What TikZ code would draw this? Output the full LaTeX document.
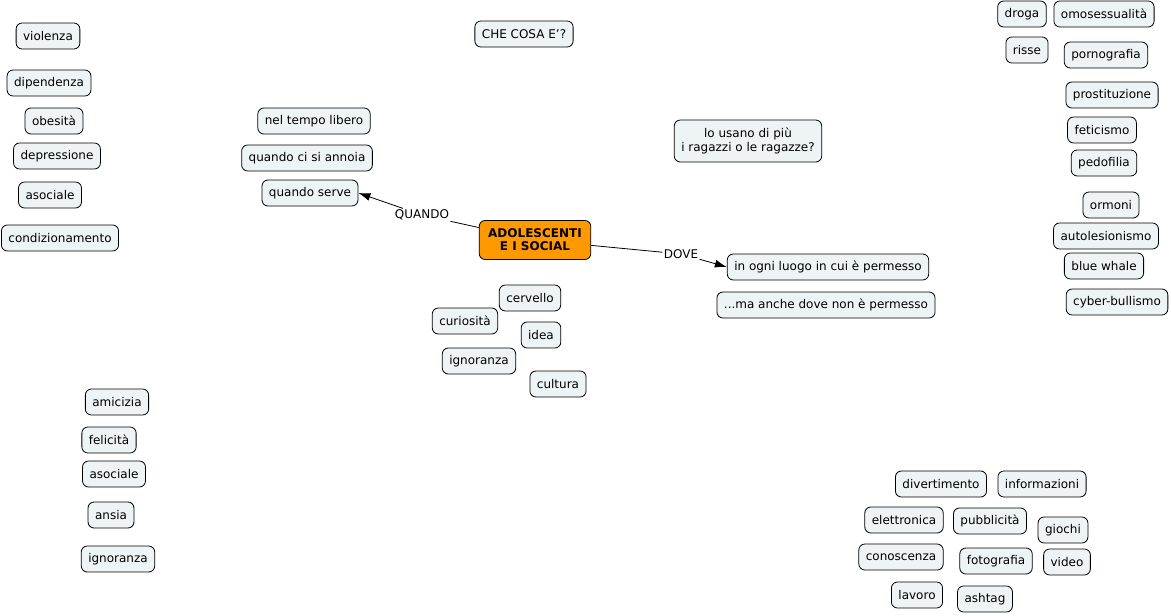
\documentclass[tikz,border=0pt]{standalone}
\usepackage{fontspec}
\setmainfont{DejaVu Sans}
\usetikzlibrary{positioning,arrows.meta}
\definecolor{fondo}{RGB}{238,243,245}
\definecolor{arancio}{RGB}{255,153,0}

\begin{document}
\begin{tikzpicture} [x=1pt, y=-1pt, thick,
                    font=\fontsize{12}{14}\selectfont,
                    concetto/.style={draw, line width=0.8pt, rounded corners=6pt, fill=fondo,
                                     minimum height=26pt, inner xsep=7pt, align=center},
                    nucleo/.style={concetto, fill=arancio, font=\fontsize{12}{13}\selectfont\bfseries,
                                   minimum height=39pt, inner xsep=9pt},
                    frase/.style={inner sep=1pt, fill=white},
                    freccia/.style={line width=0.8pt, -{Latex[length=12pt,width=8pt]}}]
\useasboundingbox (0,0) rectangle (1171,616);

% nodo centrale e collegamenti
\node[nucleo] (centro) at (535,240) {ADOLESCENTI\\E I SOCIAL};
\node[frase] (quando) at (422,215) {QUANDO};
\node[frase] (dove) at (681,254) {DOVE};

\node[concetto] (libero) at (314,121) {nel tempo libero};
\node[concetto] (annoia) at (307,158) {quando ci si annoia};
\node[concetto] (serve) at (310,193) {quando serve};

\node[concetto] (ogni) at (828,267) {in ogni luogo in cui è permesso};
\node[concetto] (anche) at (826,305) {...ma anche dove non è permesso};

\node[concetto] (checosa) at (524,34) {CHE COSA E'?};
\node[concetto, minimum height=42pt] (ragazzi) at (748,141) {lo usano di più\\i ragazzi o le ragazze?};

 \draw[line width=0.8pt] (centro) -- (quando);
 \draw[freccia] (quando) -- (serve.east);
 \draw[line width=0.8pt] (centro) -- (dove);
 \draw[freccia] (dove) -- (ogni.west);

% colonna a sinistra
\node[concetto] (violenza) at (48,36) {violenza};
\node[concetto] (dipendenza) at (49,83) {dipendenza};
\node[concetto] (obesita) at (54,121) {obesità};
\node[concetto] (depressione) at (57,156) {depressione};
\node[concetto] (asociale) at (50,195) {asociale};
\node[concetto] (condiz) at (60,238) {condizionamento};

\node[concetto] (amicizia) at (117,402) {amicizia};
\node[concetto] (felicita) at (109,440) {felicità};
\node[concetto] (asociale2) at (114,474) {asociale};
\node[concetto] (ansia) at (111,515) {ansia};
\node[concetto] (ignoranza2) at (118,559) {ignoranza};

% gruppo sotto il centro
\node[concetto] (cervello) at (530,298) {cervello};
\node[concetto] (curiosita) at (465,321) {curiosità};
\node[concetto] (idea) at (541,335) {idea};
\node[concetto] (ignoranza) at (479,361) {ignoranza};
\node[concetto] (cultura) at (558,384) {cultura};

% colonna a destra
\node[concetto] (droga) at (1022,14) {droga};
\node[concetto] (omosex) at (1104,14) {omosessualità};
\node[concetto] (risse) at (1027,50) {risse};
\node[concetto] (porno) at (1106,55) {pornografia};
\node[concetto] (prostit) at (1112,95) {prostituzione};
\node[concetto] (feticismo) at (1102,130) {feticismo};
\node[concetto] (pedofilia) at (1104,163) {pedofilia};
\node[concetto] (ormoni) at (1111,205) {ormoni};
\node[concetto] (autoles) at (1106,236) {autolesionismo};
\node[concetto] (whale) at (1104,266) {blue whale};
\node[concetto] (bullismo) at (1117,302) {cyber-bullismo};

% gruppo in basso a destra
\node[concetto] (divert) at (941,484) {divertimento};
\node[concetto] (inform) at (1042,484) {informazioni};
\node[concetto] (elettr) at (904,520) {elettronica};
\node[concetto] (pubbl) at (990,521) {pubblicità};
\node[concetto] (giochi) at (1063,530) {giochi};
\node[concetto] (conosc) at (901,557) {conoscenza};
\node[concetto] (foto) at (996,561) {fotografia};
\node[concetto] (video) at (1067,562) {video};
\node[concetto] (lavoro) at (917,595) {lavoro};
\node[concetto] (ashtag) at (985,599) {ashtag};
\end{tikzpicture}
\end{document}
